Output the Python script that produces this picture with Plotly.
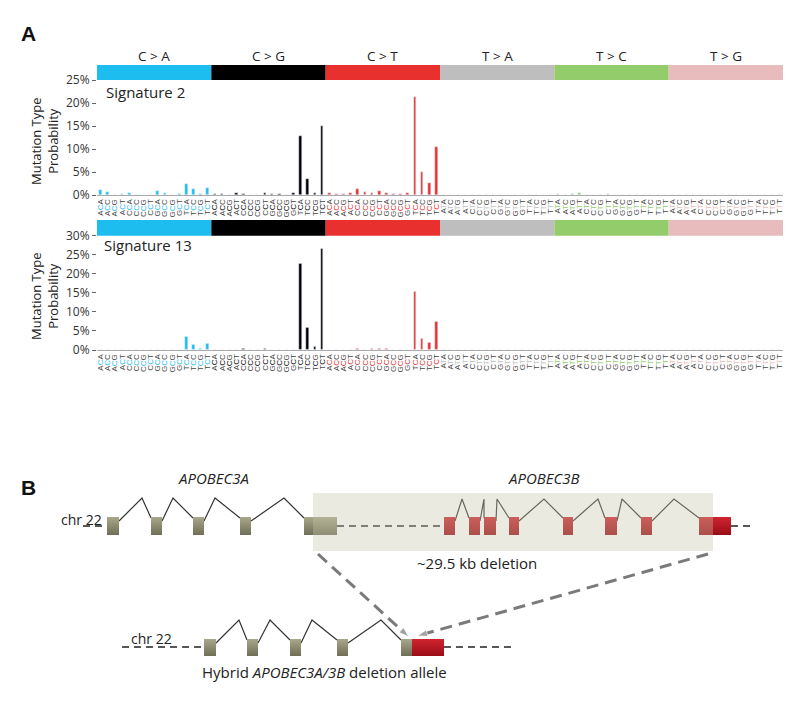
import plotly.graph_objects as go

# ---------------- data ----------------
bases = ["A", "C", "G", "T"]
mutation_types = ["C > A", "C > G", "C > T", "T > A", "T > C", "T > G"]
type_colors = ["#1ebdf0", "#000000", "#e8302e", "#bebebe", "#92cc6b", "#e8bcbc"]

# 96 trinucleotide contexts (5' base, ref, 3' base)
contexts = []
for mt in mutation_types:
    ref = mt[0]
    for b5 in bases:
        for b3 in bases:
            contexts.append((b5, ref, b3))

sig2_CA = [1.1, 0.6, 0.1, 0.3, 0.5, 0.1, 0.05, 0.1, 0.8, 0.4, 0.1, 0.2, 2.4, 1.3, 0.2, 1.5]
sig2_CG = [0.3, 0.3, 0.1, 0.5, 0.3, 0.1, 0.05, 0.4, 0.2, 0.2, 0.1, 0.4, 12.8, 3.4, 0.5, 14.9]
sig2_CT = [0.5, 0.3, 0.3, 0.4, 1.2, 0.6, 0.5, 0.9, 0.5, 0.3, 0.2, 0.4, 21.2, 5.1, 2.7, 10.4]
sig2_TA = [0.1, 0.05, 0.05, 0.1, 0.05, 0.05, 0.05, 0.1, 0.05, 0.05, 0.05, 0.05, 0.05, 0.05, 0.05, 0.05]
sig2_TC = [0.2, 0.1, 0.3, 0.5, 0.1, 0.1, 0.05, 0.2, 0.1, 0.1, 0.05, 0.1, 0.1, 0.05, 0.1, 0.1]
sig2_TG = [0.05, 0.03, 0.03, 0.05, 0.03, 0.03, 0.03, 0.05, 0.03, 0.03, 0.03, 0.03, 0.03, 0.03, 0.03, 0.05]

sig13_CA = [0.05, 0.05, 0.05, 0.05, 0.2, 0.05, 0.05, 0.05, 0.05, 0.05, 0.05, 0.05, 3.4, 1.5, 0.3, 1.7]
sig13_CG = [0.1, 0.05, 0.05, 0.1, 0.3, 0.05, 0.05, 0.3, 0.05, 0.05, 0.05, 0.1, 22.7, 5.9, 0.8, 26.5]
sig13_CT = [0.1, 0.1, 0.2, 0.1, 0.3, 0.1, 0.3, 0.3, 0.3, 0.2, 0.2, 0.2, 15.2, 2.9, 2.0, 7.4]
sig13_TA = [0.02] * 16
sig13_TC = [0.1, 0.03, 0.03, 0.03, 0.03, 0.03, 0.03, 0.03, 0.03, 0.03, 0.03, 0.03, 0.03, 0.03, 0.03, 0.03]
sig13_TG = [0.02] * 16

sig2 = sig2_CA + sig2_CG + sig2_CT + sig2_TA + sig2_TC + sig2_TG
sig13 = sig13_CA + sig13_CG + sig13_CT + sig13_TA + sig13_TC + sig13_TG

sig2_ticks = [0, 5, 10, 15, 20, 25]
sig13_ticks = [0, 5, 10, 15, 20, 25, 30]

# ---- panel B: gene model coordinates (drawing units) ----
a3a_exons = [(107, 119), (151, 162), (193, 204), (240, 251), (304, 337)]
a3a_peaks = [142, 173, 215, 284]
a3b_exons = [(444, 455), (469, 480), (484, 496), (509, 519), (563, 573), (605, 617), (641, 652), (699, 731)]
a3b_peaks = [462, 484, 497, 544, 598, 622, 674]
hyb_exons = [(204, 216), (247, 258), (290, 301), (337, 348), (401, 412)]
hyb_red_exon = (412, 444)
hyb_peaks = [239, 270, 312, 381]
deletion_box = (313, 713)

# ---------------- figure ----------------
W, H = 800, 703
def py(y):
    return 1 - y / H

FONT = "Open Sans"
fig = go.Figure()

x = list(range(96))
bar_colors = [type_colors[i // 16] for i in x]

def ticklabel(c, i):
    col = type_colors[i // 16]
    return f"{c[0]}<span style='color:{col}'>{c[1]}</span>{c[2]}"

ticktext = [ticklabel(c, i) for i, c in enumerate(contexts)]

fig.add_trace(go.Bar(x=x, y=sig2, marker_color=bar_colors, width=0.38,
                     xaxis="x", yaxis="y", showlegend=False))
fig.add_trace(go.Bar(x=x, y=sig13, marker_color=bar_colors, width=0.38,
                     xaxis="x2", yaxis="y2", showlegend=False))

xd = [97 / W, 783 / W]
common_x = dict(range=[-0.5, 95.5], tickmode="array", tickvals=x, ticktext=ticktext,
                tickangle=-90, tickfont=dict(size=8, color="#444", family="Liberation Sans"),
                showline=True, linecolor="#aaaaaa", linewidth=1, ticks="", showgrid=False,
                zeroline=False, fixedrange=True, domain=xd, automargin=False)
common_y = dict(tickfont=dict(size=12, color="#333", family=FONT),
                ticks="outside", ticklen=4, tickcolor="#666", showline=False,
                showgrid=False, zeroline=False, fixedrange=True, automargin=False)

fig.update_layout(
    width=W, height=H, margin=dict(l=0, r=0, t=0, b=0, pad=0, autoexpand=False),
    paper_bgcolor="white", plot_bgcolor="rgba(0,0,0,0)",
    font=dict(family=FONT), bargap=0,
    xaxis=dict(common_x, anchor="y"),
    yaxis=dict(common_y, range=[0, 25], tickvals=sig2_ticks,
               ticktext=[f"{v}%" for v in sig2_ticks],
               domain=[py(195), py(80)], anchor="x"),
    xaxis2=dict(common_x, anchor="y2"),
    yaxis2=dict(common_y, range=[0, 30], tickvals=sig13_ticks,
                ticktext=[f"{v}%" for v in sig13_ticks],
                domain=[py(350), py(235.7)], anchor="x2"),
    xaxis3=dict(range=[0, W], domain=[0, 1], visible=False, fixedrange=True, anchor="y3",
                automargin=False),
    yaxis3=dict(range=[H, 0], domain=[0, 1], visible=False, fixedrange=True, anchor="x3",
                automargin=False),
)

shapes = []
annotations = []

def ann(text, xref, yref, xx, yy, size, color="#222", xanchor="center", yanchor="middle", **kw):
    d = dict(text=text, xref=xref, yref=yref, x=xx, y=yy, showarrow=False,
             xanchor=xanchor, yanchor=yanchor, font=dict(size=size, color=color, **kw.pop("font", {})))
    d.update(kw)
    annotations.append(d)

# mutation type colour strips
for k, col in enumerate(type_colors):
    for xr, (ya, yb) in (("x", (80, 65)), ("x2", (235.7, 220))):
        shapes.append(dict(type="rect", xref=xr, yref="paper", x0=-0.5 + 16 * k, x1=15.5 + 16 * k,
                           y0=py(ya), y1=py(yb), fillcolor=col, line=dict(width=0), layer="above"))
    ann(mutation_types[k], "x", "paper", 7.5 + 16 * k, py(56), 13.5)

ann("Signature 2", "paper", "paper", 104 / W, py(92), 15, xanchor="left")
ann("Signature 13", "paper", "paper", 102 / W, py(245), 15, xanchor="left")
ann("Mutation Type<br>Probability", "paper", "paper", 44 / W, py(141), 13, textangle=-90)
ann("Mutation Type<br>Probability", "paper", "paper", 44 / W, py(296), 13, textangle=-90)
ann("<b>A</b>", "paper", "paper", 28 / W, py(34), 21, color="#111", font=dict(family="Liberation Sans"))
ann("<b>B</b>", "paper", "paper", 28 / W, py(487), 21, color="#111", font=dict(family="Liberation Sans"))

# ---------------- panel B ----------------
def line(xs, ys, dash="solid", width=1.2, color="#333"):
    fig.add_trace(go.Scatter(x=xs, y=ys, mode="lines", xaxis="x3", yaxis="y3",
                             line=dict(color=color, width=width, dash=dash),
                             hoverinfo="skip", showlegend=False))

def introns(exons, peaks, ytop, ypeak):
    xs, ys = [], []
    for (a, b), p in zip(zip(exons[:-1], exons[1:]), peaks):
        xs += [a[1], p, b[0], None]
        ys += [ytop + 4, ypeak, ytop + 1, None]
    line(xs, ys)

def exon_trace(exons, y0, y1, c_top, c_bot):
    xs, ys = [], []
    for a, b in exons:
        xs += [a, b, b, a, a, None]
        ys += [y0, y0, y1, y1, y0, None]
    fig.add_trace(go.Scatter(x=xs, y=ys, mode="lines", fill="toself", xaxis="x3", yaxis="y3",
                             line=dict(width=0), fillcolor=c_bot,
                             fillgradient=dict(type="vertical", start=y0, stop=y1,
                                               colorscale=[[0, c_top], [1, c_bot]]),
                             hoverinfo="skip", showlegend=False))

DASH = "7px,5px"
GRAY_TOP, GRAY_BOT = "#a9a88b", "#6f6e57"
RED_TOP, RED_BOT = "#cf2530", "#9a0d16"
# top row: chr 22 genome
ROW1, ROW1_T, ROW1_B = 526, 517, 535
line([83, a3a_exons[0][0]], [ROW1, ROW1], dash=DASH, width=1.5, color="#222")
line([a3a_exons[-1][1], a3b_exons[0][0]], [ROW1, ROW1], dash=DASH, width=1.5, color="#222")
line([a3b_exons[-1][1], 750], [ROW1, ROW1], dash=DASH, width=1.5, color="#222")
introns(a3a_exons, a3a_peaks, ROW1_T, 498)
introns(a3b_exons, a3b_peaks, ROW1_T, 499)
exon_trace(a3a_exons, ROW1_T, ROW1_B, GRAY_TOP, GRAY_BOT)
exon_trace(a3b_exons, ROW1_T, ROW1_B, RED_TOP, RED_BOT)

shapes.append(dict(type="rect", xref="x3", yref="y3", x0=deletion_box[0], x1=deletion_box[1],
                   y0=493, y1=551, fillcolor="rgba(200,197,168,0.36)", line=dict(width=0),
                   layer="above"))

# hybrid row
ROW2, ROW2_T, ROW2_B = 647, 639, 656
line([122, hyb_exons[0][0]], [ROW2, ROW2], dash=DASH, width=1.5, color="#222")
line([hyb_red_exon[1], 512], [ROW2, ROW2], dash=DASH, width=1.5, color="#222")
introns(hyb_exons, hyb_peaks, ROW2_T, 620)
exon_trace(hyb_exons, ROW2_T, ROW2_B, GRAY_TOP, GRAY_BOT)
exon_trace([hyb_red_exon], ROW2_T, ROW2_B, RED_TOP, RED_BOT)

# dashed arrows
for (xa, ya), (xb, yb) in [((318, 554), (409, 637)), ((708, 554), (417, 636))]:
    fig.add_trace(go.Scatter(x=[xa, xb], y=[ya, yb], mode="lines+markers", xaxis="x3", yaxis="y3",
                             line=dict(color="#7a7a7a", width=3, dash="12px,7px"),
                             marker=dict(symbol="arrow", size=[0, 11], angleref="previous",
                                         color="#7a7a7a"),
                             hoverinfo="skip", showlegend=False))

ann("<i>APOBEC3A</i>", "x3", "y3", 213, 478, 15)
ann("<i>APOBEC3B</i>", "x3", "y3", 544, 478, 15)
ann("chr 22", "x3", "y3", 81, 519, 14)
ann("chr 22", "x3", "y3", 151, 638, 14)
ann("~29.5 kb deletion", "x3", "y3", 477, 563, 15)
ann("Hybrid <i>APOBEC3A/3B</i> deletion allele", "x3", "y3", 324, 672, 15)

fig.update_layout(shapes=shapes, annotations=annotations)
fig.write_html("out.html", config={"displayModeBar": False},
               post_script="document.body.style.margin='0';")
